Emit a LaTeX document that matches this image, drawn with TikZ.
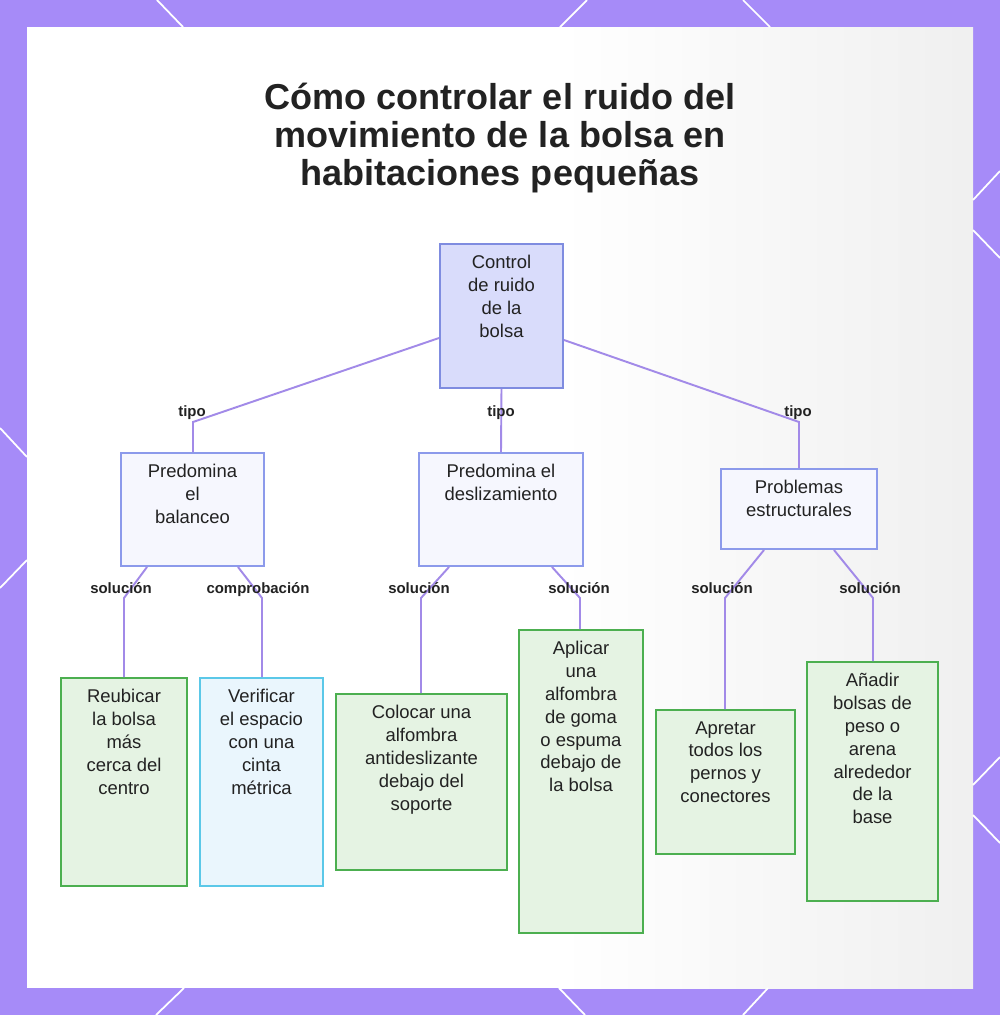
\documentclass[tikz,border=0pt]{standalone}
\usepackage{fontspec}
\setmainfont{Liberation Sans}
\usetikzlibrary{positioning}
\definecolor{frame}{HTML}{A68BF8}
\definecolor{linkc}{HTML}{A28AE8}
\definecolor{rootfill}{HTML}{D9DCFB}
\definecolor{rootline}{HTML}{7F8CE0}
\definecolor{midfill}{HTML}{F6F7FE}
\definecolor{midline}{HTML}{8C9AEB}
\definecolor{leaffill}{HTML}{E5F3E3}
\definecolor{leafline}{HTML}{4CAF50}
\definecolor{checkfill}{HTML}{EAF6FD}
\definecolor{checkline}{HTML}{5BC8E8}
\definecolor{ink}{HTML}{222222}

\begin{document}
\begin{tikzpicture}[x=0.02cm, y=-0.02cm,
		rootbox/.style={draw=rootline, fill=rootfill, line width=1.1pt},
		midbox/.style={draw=midline, fill=midfill, line width=1.1pt},
		leafbox/.style={draw=leafline, fill=leaffill, line width=1.1pt},
		checkbox/.style={draw=checkline, fill=checkfill, line width=1.1pt},
		txt/.style={inner sep=0pt, align=center, text=ink, font=\fontsize{10.5}{13}\selectfont},
		link/.style={draw=linkc, line width=1.1pt},
		tag/.style={inner sep=0pt, text height=1.5ex, text depth=0.5ex, text=ink, font=\fontsize{8.5}{10}\selectfont\bfseries}
	]
	\useasboundingbox (0,0) rectangle (1000,1015);
	\fill[frame] (0,0) rectangle (1000,1015);
	\fill[white] (27,27) rectangle (973,988);
	\shade[left color=white, right color=black!6] (560,27) rectangle (973,988);

	\draw[white, line width=1pt] (157,0) -- (183,27);
	\draw[white, line width=1pt] (587,0) -- (560,27);
	\draw[white, line width=1pt] (743,0) -- (770,27);
	\draw[white, line width=1pt] (0,428) -- (27,457);
	\draw[white, line width=1pt] (27,560) -- (0,588);
	\draw[white, line width=1pt] (1000,171) -- (973,200);
	\draw[white, line width=1pt] (973,230) -- (1000,258);
	\draw[white, line width=1pt] (1000,757) -- (973,785);
	\draw[white, line width=1pt] (973,815) -- (1000,843);
	\draw[white, line width=1pt] (184,988) -- (156,1015);
	\draw[white, line width=1pt] (559,988) -- (585,1015);
	\draw[white, line width=1pt] (768,988) -- (743,1015);

	\node[align=center, text=ink, font=\fontsize{20.5}{21.6}\selectfont\bfseries] (title) at (500,138) {Cómo controlar el ruido del\\movimiento de la bolsa en\\habitaciones pequeñas};

	\node[rootbox, minimum width=2.46cm, minimum height=2.88cm] (root) at (501.5,316) {};
	\node[midbox, minimum width=2.86cm, minimum height=2.26cm] (bal) at (192.5,509.5) {};
	\node[midbox, minimum width=3.28cm, minimum height=2.26cm] (des) at (501,509.5) {};
	\node[midbox, minimum width=3.12cm, minimum height=1.6cm] (est) at (799,509) {};

	\node[leafbox, minimum width=2.52cm, minimum height=4.16cm] (reub) at (124,782) {};
	\node[checkbox, minimum width=2.46cm, minimum height=4.16cm] (veri) at (261.5,782) {};
	\node[leafbox, minimum width=3.42cm, minimum height=3.52cm] (colo) at (421.5,782) {};
	\node[leafbox, minimum width=2.48cm, minimum height=6.06cm] (apli) at (581,781.5) {};
	\node[leafbox, minimum width=2.78cm, minimum height=2.88cm] (apre) at (725.5,782) {};
	\node[leafbox, minimum width=2.62cm, minimum height=4.78cm] (anad) at (872.5,781.5) {};

	\node[txt, below=0.24cm of root.north] (rootT) {Control\\de ruido\\de la\\bolsa};
	\node[txt, below=0.24cm of bal.north] (balT) {Predomina\\el\\balanceo};
	\node[txt, below=0.24cm of des.north] (desT) {Predomina el\\deslizamiento};
	\node[txt, below=0.24cm of est.north] (estT) {Problemas\\estructurales};
	\node[txt, below=0.24cm of reub.north] (reubT) {Reubicar\\la bolsa\\más\\cerca del\\centro};
	\node[txt, below=0.24cm of veri.north] (veriT) {Verificar\\el espacio\\con una\\cinta\\métrica};
	\node[txt, below=0.24cm of colo.north] (coloT) {Colocar una\\alfombra\\antideslizante\\debajo del\\soporte};
	\node[txt, below=0.24cm of apli.north] (apliT) {Aplicar\\una\\alfombra\\de goma\\o espuma\\debajo de\\la bolsa};
	\node[txt, below=0.24cm of apre.north] (apreT) {Apretar\\todos los\\pernos y\\conectores};
	\node[txt, below=0.24cm of anad.north] (anadT) {Añadir\\bolsas de\\peso o\\arena\\alrededor\\de la\\base};

	\coordinate (k1) at (193,422);
	\coordinate (k3) at (799,422);
	\coordinate (m1) at (124,598);
	\coordinate (m2) at (262,598);
	\coordinate (m3) at (421,598);
	\coordinate (m4) at (580,598);
	\coordinate (m5) at (725,598);
	\coordinate (m6) at (873,598);

	\draw[link] ([yshift=-0.44cm]root.west) -- (k1) -- (bal.north -| k1);
	\draw[link] (root.south) -- (des.north);
	\draw[link] ([yshift=-0.48cm]root.east) -- (k3) -- (est.north -| k3);
	\draw[link] ([xshift=0.54cm]bal.south west) -- (m1) -- (reub.north -| m1);
	\draw[link] ([xshift=-0.54cm]bal.south east) -- (m2) -- (veri.north -| m2);
	\draw[link] ([xshift=0.62cm]des.south west) -- (m3) -- (colo.north -| m3);
	\draw[link] ([xshift=-0.64cm]des.south east) -- (m4) -- (apli.north -| m4);
	\draw[link] ([xshift=0.88cm]est.south west) -- (m5) -- (apre.north -| m5);
	\draw[link] ([xshift=-0.88cm]est.south east) -- (m6) -- (anad.north -| m6);

	\node[tag] (tipo1) at (192,412) {tipo};
	\node[tag] (tipo2) at (501,412) {tipo};
	\node[tag] (tipo3) at (798,412) {tipo};
	\node[tag] (sol1) at (121,589) {solución};
	\node[tag] (comp) at (258,589) {comprobación};
	\node[tag] (sol2) at (419,589) {solución};
	\node[tag] (sol3) at (579,589) {solución};
	\node[tag] (sol4) at (722,589) {solución};
	\node[tag] (sol5) at (870,589) {solución};
\end{tikzpicture}
\end{document}
